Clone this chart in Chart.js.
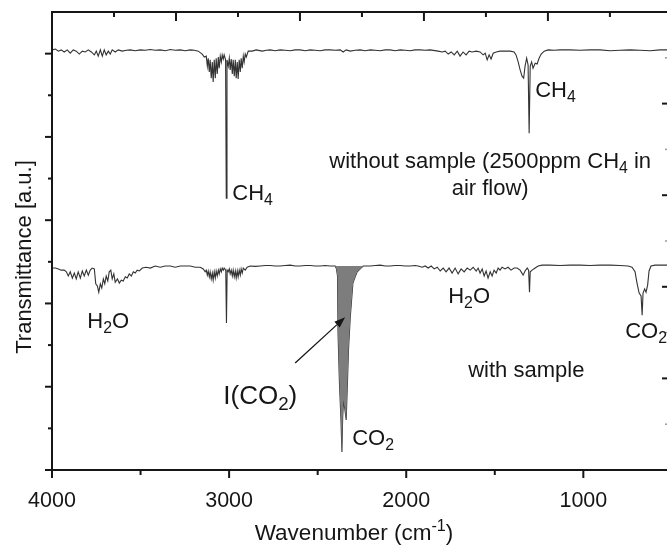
<!DOCTYPE html>
<html>
<head>
<meta charset="utf-8">
<title>FTIR transmittance spectra</title>
<script src="https://cdn.jsdelivr.net/npm/chart.js@4.4.1/dist/chart.umd.min.js"></script>
<style>
  html, body { margin: 0; padding: 0; background: #fff; overflow: hidden; }
  #wrap { width: 667px; height: 547px; overflow: hidden; }
  canvas { display: block; }
</style>
</head>
<body>
<div id="wrap"><canvas id="spectra" width="672" height="547"></canvas></div>
<script>
// ---------------- Spectrum without sample (2500 ppm CH4 in air flow) ----------------
const topWavenumber = [
  3998, 3981, 3964, 3948, 3931, 3914, 3897, 3880, 3863, 3846,
  3829, 3812, 3795, 3778, 3761, 3750, 3739, 3727, 3716, 3705,
  3694, 3682, 3671, 3660, 3643, 3626, 3603,
  3580, 3558, 3530, 3502, 3474, 3445, 3417, 3389, 3360, 3332,
  3304, 3276, 3248, 3219, 3196, 3174, 3152,
  3140, 3129, 3123, 3118, 3112, 3107, 3101, 3095, 3090, 3084,
  3078, 3073, 3067, 3061, 3056, 3050, 3044, 3039, 3033, 3028,
  3020, 3016, 3012, 3005, 2999, 2994, 2988, 2982, 2977, 2971,
  2965, 2960, 2954, 2949, 2943, 2937, 2932, 2926, 2920, 2915,
  2909, 2903,
  2892, 2870, 2847, 2813, 2790, 2768, 2740, 2712, 2684, 2655,
  2627, 2599, 2570, 2542, 2514, 2486, 2458, 2429, 2400, 2373,
  2356, 2339, 2316, 2288, 2260, 2232, 2203, 2175, 2147, 2119,
  2091, 2062, 2034, 2006, 1978, 1950, 1921, 1893, 1865,
  1820, 1797, 1780, 1763, 1746, 1729, 1712, 1696, 1679, 1662,
  1645, 1628, 1605, 1583, 1566, 1554, 1543, 1532, 1521, 1509,
  1492, 1470, 1442, 1413, 1391, 1380, 1368, 1357, 1346, 1337,
  1329, 1320, 1312, 1306, 1300, 1292, 1284, 1272, 1261, 1250,
  1238, 1221,
  1199, 1165, 1131, 1075, 1018, 962, 905, 849, 793, 736,
  680, 623, 567, 516
];
const topTransmittance = [
  100.9, 101.1, 100.6, 100.9, 100.4, 100.9, 100.1, 100.9, 100.6, 99.9,
  100.6, 100.4, 100.9, 100.4, 99.7, 100.6, 99.4, 100.9, 99.4, 100.9,
  99.7, 100.6, 99.9, 100.9, 100.4, 100.9, 100.6,
  100.8, 100.9, 100.7, 100.9, 100.8, 101.0, 100.8, 100.9, 100.7, 101.0,
  100.8, 100.9, 100.7, 100.9, 100.8, 100.6, 99.9,
  99.2, 99.4, 97.0, 98.9, 95.6, 98.5, 94.1, 98.0, 93.2, 98.5,
  94.1, 98.9, 95.1, 99.2, 96.5, 99.4, 98.0, 99.7, 98.7, 99.7,
  98.5, 65.3, 98.5, 97.0, 98.9, 96.1, 98.7, 95.1, 98.5, 94.6,
  98.5, 94.1, 98.0, 93.9, 98.5, 95.6, 98.9, 96.5, 99.4, 98.0,
  99.9, 99.2,
  100.6, 100.6, 100.9, 100.6, 100.8, 100.9, 100.7, 100.9, 100.8, 100.7,
  100.9, 100.9, 100.7, 100.9, 100.8, 100.7, 100.9, 100.9, 100.8, 100.9,
  100.4, 100.9, 100.6, 100.8, 100.9, 100.7, 100.9, 100.8, 100.7, 100.9,
  100.9, 100.7, 100.9, 100.8, 100.7, 100.9, 100.9, 100.8, 100.9,
  100.6, 100.4, 100.6, 99.9, 100.4, 99.7, 100.6, 99.4, 100.4, 99.7,
  100.6, 100.4, 100.6, 100.4, 99.7, 100.1, 98.5, 99.7, 98.7, 100.1,
  100.4, 100.6, 100.6, 100.6, 100.4, 99.7, 98.0, 96.1, 94.6, 94.1,
  97.0, 98.9, 97.3, 80.9, 97.0, 98.0, 96.5, 97.7, 97.5, 98.9,
  99.9, 100.6,
  100.9, 100.8, 100.9, 100.9, 100.8, 100.9, 100.9, 100.7, 100.8, 100.9,
  100.8, 100.7, 100.9, 100.9
];

// ---------------- Spectrum with sample ----------------
const bottomWavenumber = [
  3998, 3981, 3964, 3948, 3931, 3919, 3908, 3897, 3885, 3874,
  3863, 3852, 3840, 3829, 3818, 3806, 3795, 3784, 3773, 3761,
  3753, 3744, 3736, 3727, 3719, 3710, 3702, 3694, 3685, 3677,
  3668, 3660, 3651, 3643, 3631, 3620, 3609, 3598, 3586, 3575,
  3564, 3552, 3541, 3530, 3519, 3507, 3490,
  3468, 3445, 3417, 3389, 3361, 3332, 3304, 3276, 3248, 3219,
  3191, 3163, 3146,
  3135, 3129, 3123, 3118, 3112, 3107, 3101, 3095, 3090, 3084,
  3078, 3073, 3067, 3061, 3056, 3050, 3044, 3039, 3033, 3028,
  3019, 3015, 3011, 3005, 2999, 2994, 2988, 2982, 2977, 2971,
  2965, 2960, 2954, 2949, 2943, 2937, 2932, 2926, 2920, 2909,
  2898,
  2881, 2853, 2824, 2796, 2768, 2740, 2712, 2684, 2655, 2627,
  2599, 2570, 2542, 2514, 2486, 2458, 2429, 2412,
  2401, 2394, 2388, 2385, 2377, 2369, 2363, 2359, 2354, 2346,
  2339, 2332, 2326, 2316, 2301, 2288, 2277, 2260, 2243,
  2203, 2175, 2147, 2119, 2091, 2062, 2034, 2006, 1978, 1950,
  1933, 1910, 1893, 1876, 1859, 1842, 1825, 1808, 1791, 1775,
  1758, 1741, 1724, 1707, 1690, 1673, 1656, 1639, 1622, 1605,
  1594, 1583, 1571, 1560, 1549, 1538, 1526, 1515, 1504, 1492,
  1481, 1470, 1459, 1442, 1425, 1408, 1391, 1374, 1357, 1340,
  1329, 1317, 1309, 1304, 1300, 1289, 1272, 1255,
  1233, 1188, 1131, 1075, 1018, 962, 905, 849, 793, 747,
  725, 708, 697, 685, 674, 668, 663, 654, 646, 637,
  629, 618, 595, 567, 516
];
const bottomTransmittance = [
  48.5, 48.5, 48.3, 48.0, 48.0, 47.6, 46.6, 47.6, 46.1, 47.3,
  45.9, 47.6, 46.1, 47.8, 46.6, 48.0, 46.8, 48.0, 48.5, 48.3,
  44.7, 44.2, 42.7, 44.7, 43.7, 45.9, 44.7, 46.6, 45.4, 47.6,
  48.0, 45.9, 47.1, 45.1, 45.9, 44.9, 45.6, 45.4, 46.4, 46.1,
  47.1, 46.6, 47.6, 47.3, 48.0, 47.8, 48.5,
  48.7, 48.5, 49.0, 48.7, 49.0, 49.0, 48.7, 49.0, 49.0, 49.0,
  48.7, 48.7, 48.3,
  47.6, 48.0, 46.8, 47.8, 46.4, 47.6, 45.9, 47.3, 45.6, 47.6,
  46.1, 47.8, 46.6, 48.0, 47.1, 48.3, 47.6, 48.5, 48.0, 48.5,
  48.0, 35.3, 48.0, 47.6, 48.3, 47.1, 48.0, 46.6, 48.0, 46.4,
  47.8, 46.1, 47.8, 46.4, 48.0, 46.8, 48.3, 47.3, 48.5, 48.0,
  48.7,
  49.0, 48.9, 49.0, 49.1, 49.1, 49.0, 49.0, 49.1, 49.2, 49.0,
  49.0, 49.1, 49.1, 49.0, 49.0, 49.1, 49.0, 49.0,
  49.0, 48.3, 46.6, 32.9, 20.9, 12.7, 4.3, 12.5, 16.8, 14.4,
  12.0, 20.9, 28.8, 36.7, 44.9, 46.4, 47.6, 48.3, 49.0,
  49.0, 49.1, 49.2, 49.0, 49.0, 49.1, 49.1, 49.0, 49.0, 49.1,
  49.0, 48.7, 49.0, 48.5, 49.0, 48.3, 48.7, 47.8, 48.5, 47.6,
  48.5, 47.3, 48.5, 47.1, 48.3, 47.6, 48.5, 48.0, 48.7, 47.8,
  48.5, 47.3, 48.3, 46.6, 47.8, 46.1, 47.6, 46.6, 48.0, 47.3,
  48.5, 48.0, 48.7, 48.3, 48.7, 48.0, 48.5, 48.5, 48.0, 46.8,
  47.8, 48.5, 48.0, 42.7, 47.6, 48.0, 48.5, 49.0,
  49.2, 49.2, 49.1, 49.2, 49.2, 49.1, 49.2, 49.2, 49.1, 49.0,
  48.7, 47.6, 44.9, 42.5, 41.8, 37.2, 42.5, 43.5, 42.7, 44.4,
  47.8, 49.0, 49.2, 49.2, 49.2
];

// integrated CO2 band I(CO2), shaded down from the local baseline
const co2BandRange = [2243, 2401];
const co2Baseline = 49.0;

// ---------------- Axes ----------------
const xRange = [522, 4000];
const yRange = [0, 110];
const bottomMajorTicks = [4000, 3000, 2000, 1000];
const bottomMinorTicks = [3500, 2500, 1500];
const topMajorTicks = [3300, 2600, 1900, 1200];
const topMinorTicks = [3650, 2950, 2250, 1550, 850];
const leftMajorTicks = [0, 20, 40, 60, 80, 100];
const leftMinorTicks = [10, 30, 50, 70, 90];
const rightMajorTicks = [22, 44, 66, 88];
const rightMinorTicks = [11, 33, 55, 77, 99];

const xTitle = "Wavenumber (cm^{-1})";
const yTitle = "Transmittance [a.u.]";

// labels placed in data units (wavenumber, transmittance)
const annotations = [
  { text: "CH_4", wn: 2982, t: 64.8, size: 22 },
  { text: "CH_4", wn: 1272, t: 89.6, size: 22 },
  { text: "without sample (2500ppm CH_4 in", wn: 1526, t: 72.5, size: 22, align: "center" },
  { text: "air flow)", wn: 1526, t: 66.0, size: 22, align: "center" },
  { text: "H_2O", wn: 3801, t: 34.1, size: 22 },
  { text: "H_2O", wn: 1763, t: 40.1, size: 22 },
  { text: "CO_2", wn: 2305, t: 6.0, size: 22 },
  { text: "CO_2", wn: 764, t: 31.7, size: 22 },
  { text: "with sample", wn: 1650, t: 22.3, size: 22 },
  { text: "I(CO_2)", wn: 3033, t: 15.9, size: 26 },
];
const arrowFrom = [2627, 25.7];
const arrowTo = [2345, 36.7];

const INK = "#161616";
const FONT = '"Liberation Sans", Arial, sans-serif';

const pts = (xs, ys) => xs.map((x, i) => ({ x, y: ys[i] }));
const topSpectrum = pts(topWavenumber, topTransmittance);
const bottomSpectrum = pts(bottomWavenumber, bottomTransmittance);
const co2Band = bottomSpectrum.filter((p) => p.x >= co2BandRange[0] && p.x <= co2BandRange[1]);

// ---------------- Rich text (sub/superscripts) ----------------
function parseRich(str) {
  const parts = [];
  let buf = "";
  let i = 0;
  while (i < str.length) {
    const c = str[i];
    if (c === "_" || c === "^") {
      if (buf) { parts.push({ t: buf, mode: "" }); buf = ""; }
      let seg;
      if (str[i + 1] === "{") {
        const j = str.indexOf("}", i);
        seg = str.slice(i + 2, j);
        i = j + 1;
      } else {
        seg = str[i + 1];
        i += 2;
      }
      parts.push({ t: seg, mode: c === "_" ? "sub" : "sup" });
    } else {
      buf += c;
      i++;
    }
  }
  if (buf) parts.push({ t: buf, mode: "" });
  return parts;
}

function drawRich(ctx, str, x, y, size, align) {
  const parts = parseRich(str);
  let width = 0;
  parts.forEach((p) => {
    p.size = p.mode ? size * 0.72 : size;
    ctx.font = `${p.size}px ${FONT}`;
    p.w = ctx.measureText(p.t).width;
    width += p.w;
  });
  let cx = align === "center" ? x - width / 2 : x;
  ctx.textAlign = "left";
  ctx.textBaseline = "alphabetic";
  parts.forEach((p) => {
    ctx.font = `${p.size}px ${FONT}`;
    const dy = p.mode === "sub" ? size * 0.23 : p.mode === "sup" ? -size * 0.42 : 0;
    ctx.fillText(p.t, cx, y + dy);
    cx += p.w;
  });
}

// ---------------- Frame, ticks and labels ----------------
const framePlugin = {
  id: "frame",
  afterDraw(chart) {
    const { ctx, chartArea: a, scales: { x, y } } = chart;
    ctx.save();
    ctx.strokeStyle = INK;
    ctx.fillStyle = INK;

    // axes box (the right spine sits just outside the visible page)
    ctx.lineWidth = 2;
    ctx.beginPath();
    ctx.moveTo(a.left, a.top);
    ctx.lineTo(a.right, a.top);
    ctx.moveTo(a.left, a.top - 1);
    ctx.lineTo(a.left, a.bottom + 1);
    ctx.moveTo(a.left, a.bottom);
    ctx.lineTo(a.right, a.bottom);
    ctx.moveTo(a.right + 1, a.top);
    ctx.lineTo(a.right + 1, a.bottom);
    ctx.stroke();

    const tick = (x1, y1, x2, y2, w) => {
      ctx.lineWidth = w;
      ctx.beginPath();
      ctx.moveTo(x1, y1);
      ctx.lineTo(x2, y2);
      ctx.stroke();
    };
    bottomMajorTicks.forEach((v) => { const px = x.getPixelForValue(v); tick(px, a.bottom, px, a.bottom + 8, 2); });
    bottomMinorTicks.forEach((v) => { const px = x.getPixelForValue(v); tick(px, a.bottom, px, a.bottom + 5, 2); });
    topMajorTicks.forEach((v) => { const px = x.getPixelForValue(v); tick(px, a.top, px, a.top + 9, 2); });
    topMinorTicks.forEach((v) => { const px = x.getPixelForValue(v); tick(px, a.top, px, a.top + 5, 2); });
    leftMajorTicks.forEach((v) => { const py = y.getPixelForValue(v); tick(a.left - 7, py, a.left, py, 2); });
    leftMinorTicks.forEach((v) => { const py = y.getPixelForValue(v); tick(a.left - 4, py, a.left, py, 2); });
    rightMajorTicks.forEach((v) => { const py = y.getPixelForValue(v); tick(a.right - 6, py, a.right, py, 2); });
    ctx.strokeStyle = "#9a9a9a";
    rightMinorTicks.forEach((v) => { const py = y.getPixelForValue(v); tick(a.right - 3, py, a.right, py, 1.5); });
    ctx.strokeStyle = INK;

    // tick labels and axis titles
    bottomMajorTicks.forEach((v) => drawRich(ctx, String(v), x.getPixelForValue(v), a.bottom + 37, 21.5, "center"));
    drawRich(ctx, xTitle, 354, a.bottom + 70, 22.5, "center");
    ctx.save();
    ctx.translate(31, 257);
    ctx.rotate(-Math.PI / 2);
    drawRich(ctx, yTitle, 0, 0, 22, "center");
    ctx.restore();

    // peak annotations
    annotations.forEach((n) => drawRich(ctx, n.text, x.getPixelForValue(n.wn), y.getPixelForValue(n.t), n.size, n.align));

    // arrow pointing into the integrated CO2 band
    const x0 = x.getPixelForValue(arrowFrom[0]), y0 = y.getPixelForValue(arrowFrom[1]);
    const x1 = x.getPixelForValue(arrowTo[0]), y1 = y.getPixelForValue(arrowTo[1]);
    const ang = Math.atan2(y1 - y0, x1 - x0);
    const head = 11, half = 4;
    const bx = x1 - head * Math.cos(ang), by = y1 - head * Math.sin(ang);
    tick(x0, y0, bx, by, 1.3);
    ctx.beginPath();
    ctx.moveTo(x1, y1);
    ctx.lineTo(bx + half * Math.sin(ang), by - half * Math.cos(ang));
    ctx.lineTo(bx - half * Math.sin(ang), by + half * Math.cos(ang));
    ctx.closePath();
    ctx.fill();

    ctx.restore();
  },
};

new Chart(document.getElementById("spectra"), {
  type: "line",
  data: {
    datasets: [
      {
        label: "I(CO2)",
        data: co2Band,
        borderWidth: 0,
        borderColor: "rgba(0,0,0,0)",
        backgroundColor: "#7d7d7d",
        fill: { value: co2Baseline },
        pointRadius: 0,
      },
      {
        label: "without sample",
        data: topSpectrum,
        borderColor: "#333333",
        borderWidth: 1.1,
        pointRadius: 0,
        fill: false,
      },
      {
        label: "with sample",
        data: bottomSpectrum,
        borderColor: "#333333",
        borderWidth: 1.1,
        pointRadius: 0,
        fill: false,
      },
    ],
  },
  options: {
    responsive: false,
    animation: false,
    events: [],
    layout: { padding: { left: 52, top: 12, right: 4, bottom: 77 } },
    plugins: { legend: { display: false }, tooltip: { enabled: false } },
    scales: {
      x: { type: "linear", reverse: true, min: xRange[0], max: xRange[1], display: false },
      y: { type: "linear", min: yRange[0], max: yRange[1], display: false },
    },
  },
  plugins: [framePlugin],
});
</script>
</body>
</html>
